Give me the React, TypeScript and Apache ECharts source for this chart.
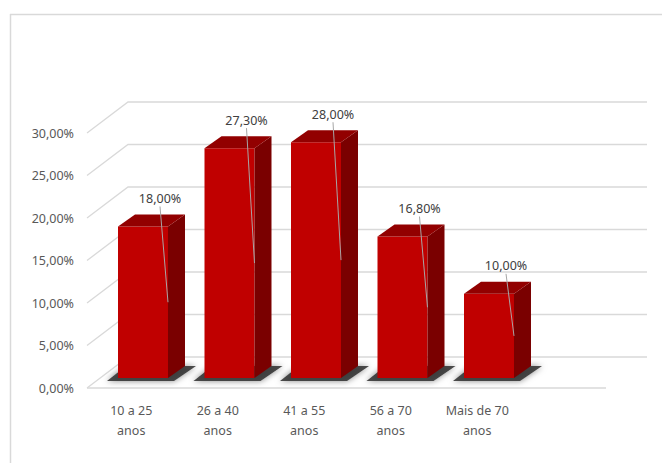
import React, { useEffect, useRef } from "react";
import * as echarts from "echarts";

const categories = ["10 a 25\nanos", "26 a 40\nanos", "41 a 55\nanos", "56 a 70\nanos", "Mais de 70\nanos"];
const values = [18, 27.3, 28, 16.8, 10];
const yMin = 0;
const yMax = 30;
const yInterval = 5;
const gridValues = [0, 5, 10, 15, 20, 25, 30];

const FONT = "'Noto Sans', 'Open Sans', sans-serif";
const fmt = (v: number) => v.toFixed(2).replace(".", ",") + "%";

export default function App() {
  const ref = useRef<HTMLDivElement>(null);
  useEffect(() => {
    if (!ref.current) return;
    const chart = echarts.init(ref.current, null, { renderer: "svg" });
    const DX = 41, DY = 31; // wall depth
    const BDX = 17, BDY = 12; // bar depth
    const option: any = {
      animation: false,
      backgroundColor: "#ffffff",
      graphic: [
        { type: "line", shape: { x1: 10, y1: 14.5, x2: 662, y2: 14.5 }, style: { stroke: "#D9D9D9", lineWidth: 1.5 }, z: 0 },
        { type: "line", shape: { x1: 10.5, y1: 14, x2: 10.5, y2: 463 }, style: { stroke: "#D9D9D9", lineWidth: 1.5 }, z: 0 },
      ],
      grid: [
        { left: 88, top: 133, width: 432.5, height: 255, containLabel: false },
        { left: 99.75, top: 125.4, width: 432.5, height: 252.6, containLabel: false },
      ],
      xAxis: [
        {
          type: "category",
          gridIndex: 0,
          data: categories,
          axisLine: { show: false },
          axisTick: { show: false },
          splitLine: { show: false },
          axisLabel: { color: "#595959", fontSize: 12.5, fontFamily: FONT, margin: 12, lineHeight: 20, interval: 0 },
        },
        {
          type: "category",
          gridIndex: 1,
          data: categories,
          show: false,
        },
      ],
      yAxis: [
        {
          type: "value",
          gridIndex: 0,
          min: yMin,
          max: yMax,
          interval: yInterval,
          axisLine: { show: false },
          axisTick: { show: false },
          splitLine: { show: false },
          axisLabel: { color: "#595959", fontSize: 12.5, fontFamily: FONT, margin: 14, formatter: (v: number) => fmt(v) },
        },
        {
          type: "value",
          gridIndex: 1,
          min: yMin,
          max: yMax,
          interval: yInterval,
          show: false,
        },
      ],
      series: [
        {
          type: "custom",
          xAxisIndex: 0,
          yAxisIndex: 0,
          silent: true,
          z: 1,
          data: gridValues.map((v) => [0, v]),
          renderItem: (params: any, api: any) => {
            const v = api.value(1);
            const y = api.coord([0, v])[1];
            const x0 = params.coordSys.x - 1;
            const children: any[] = [
              {
                type: "polyline",
                shape: { points: [[x0, y], [x0 + DX, y - DY], [x0 + 560, y - DY]] },
                style: { stroke: "#D9D9D9", lineWidth: 1.3, fill: null },
              },
            ];
            if (v === 0) {
              children.push({
                type: "line",
                shape: { x1: x0, y1: y, x2: x0 + 519, y2: y },
                style: { stroke: "#D9D9D9", lineWidth: 1.3 },
              });
            }
            return { type: "group", children };
          },
        },
        {
          type: "custom",
          xAxisIndex: 1,
          yAxisIndex: 1,
          silent: true,
          z: 2,
          data: values.map((v, i) => [i, v]),
          renderItem: (params: any, api: any) => {
            const i = api.value(0);
            const v = api.value(1);
            const top = api.coord([i, v]);
            const base = api.coord([i, 0]);
            const band = api.size([1, 0])[0];
            const w = band * 0.578;
            const xl = top[0] - w / 2;
            const xr = xl + w;
            const yt = top[1];
            const yb = base[1];
            return {
              type: "group",
              children: [
                {
                  type: "polygon",
                  shape: { points: [[xl - 11, yb + 3], [xr + 6, yb + 3], [xr + 28, yb - 12], [xl + 8, yb - 12]] },
                  style: { fill: "rgba(45,45,45,0.85)", shadowBlur: 6, shadowColor: "rgba(0,0,0,0.55)" },
                },
                {
                  type: "rect",
                  shape: { x: xl, y: yt, width: w, height: yb - yt },
                  style: { fill: "#C00000" },
                },
                {
                  type: "polygon",
                  shape: { points: [[xr, yt], [xr + BDX, yt - BDY], [xr + BDX, yb - BDY], [xr, yb]] },
                  style: { fill: "#7A0000" },
                },
                {
                  type: "polygon",
                  shape: { points: [[xl, yt], [xl + BDX, yt - BDY], [xr + BDX, yt - BDY], [xr, yt]] },
                  style: { fill: "#920000" },
                },
                {
                  type: "line",
                  shape: { x1: top[0] + 17, y1: yt - 20, x2: xr, y2: (yt + yb) / 2 },
                  style: { stroke: "#A6A6A6", lineWidth: 1 },
                },
                {
                  type: "text",
                  x: top[0] + 17,
                  y: yt - 28,
                  style: {
                    text: fmt(v),
                    fill: "#404040",
                    fontSize: 12.5,
                    fontFamily: FONT,
                    align: "center",
                    verticalAlign: "middle",
                  },
                },
              ],
            };
          },
        },
      ],
    };
    chart.setOption(option);
    return () => chart.dispose();
  }, []);
  return <div ref={ref} style={{ position: "fixed", left: 0, top: 0, width: 662, height: 463 }} />;
}
